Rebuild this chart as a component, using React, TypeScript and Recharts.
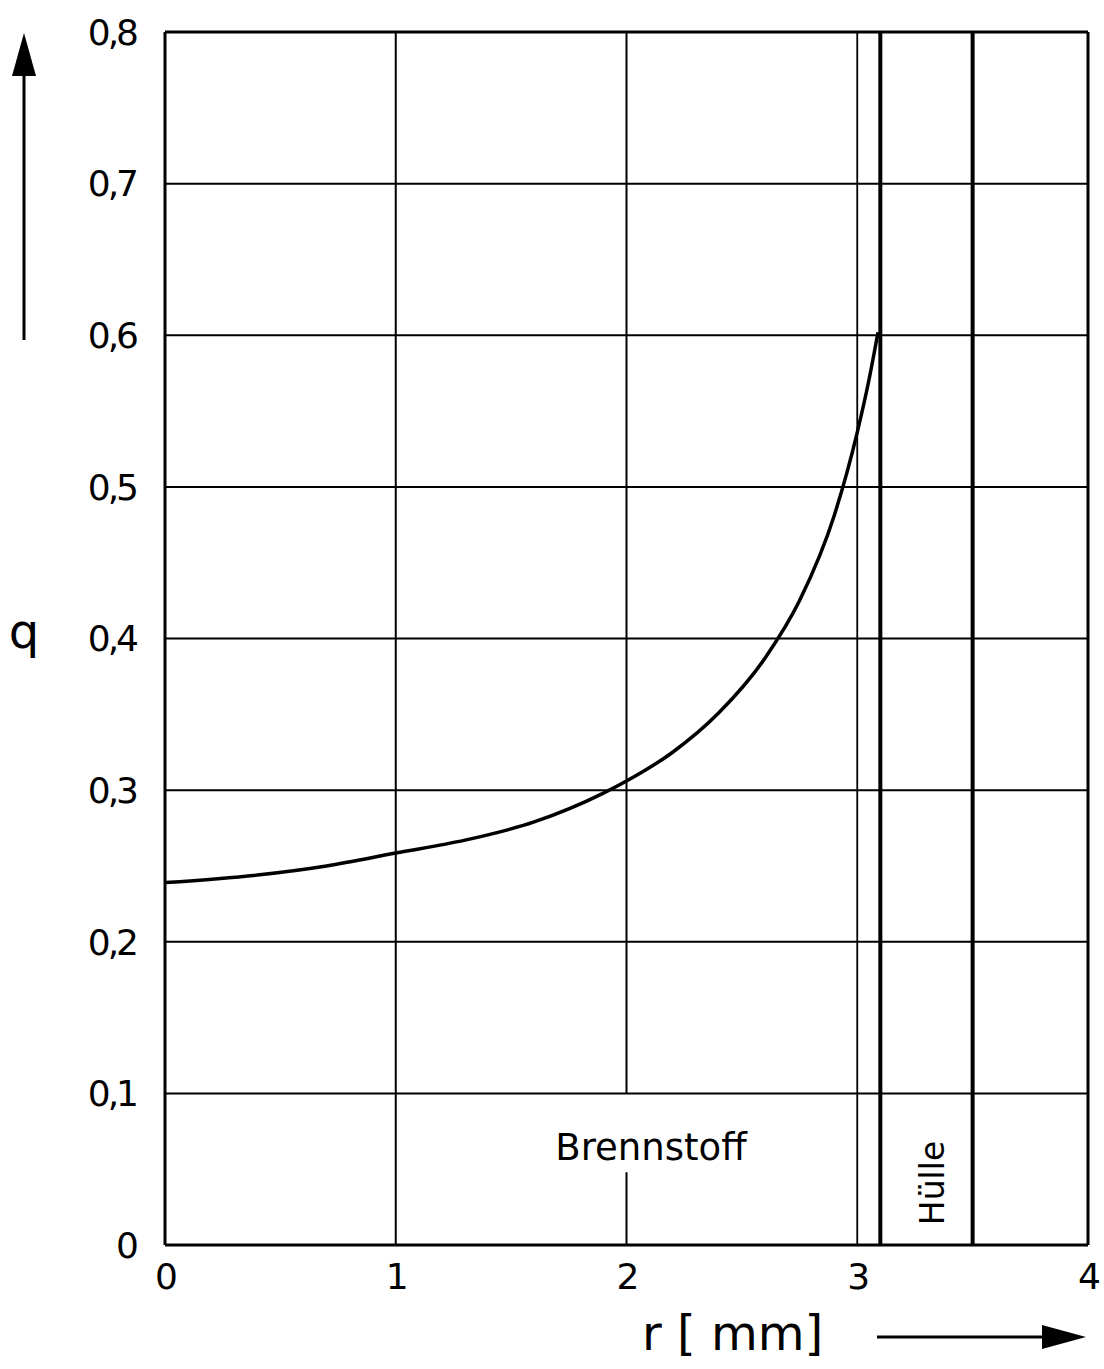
import React from "react";
import { LineChart, Line, XAxis, YAxis, CartesianGrid, ReferenceLine } from "recharts";

// radial position r [mm] and normalised heat source q along the fuel radius
const radius = [0, 0.4, 0.7, 1.0, 1.3, 1.6, 1.9, 2.0, 2.2, 2.4, 2.6, 2.75, 2.9, 3.0, 3.05, 3.09];
const qValues = [0.239, 0.244, 0.25, 0.2585, 0.267, 0.279, 0.298, 0.306, 0.325, 0.351, 0.387, 0.425, 0.481, 0.536, 0.57, 0.602];

const xTicks = [0, 1, 2, 3, 4];
const yTicks = [0, 0.1, 0.2, 0.3, 0.4, 0.5, 0.6, 0.7, 0.8];

// region boundaries
const gapEdge = 3.0;
const fuelEdge = 3.1;
const cladEdge = 3.5;
// the r = 2 grid line is interrupted around the "Brennstoff" label
const labelGap = [0.048, 0.1];

const data = radius.map((r, i) => ({ r, q: qValues[i] }));

const W = 1104;
const H = 1369;
const FONT = "'DejaVu Sans', 'Liberation Sans', sans-serif";

const fmtQ = (v: number) => (v === 0 ? "0" : v.toFixed(1).replace(".", ","));

function Annotations() {
  return (
    <svg
      width={W}
      height={H}
      style={{ position: "absolute", left: 0, top: 0, pointerEvents: "none" }}
    >
      {/* y arrow */}
      <line x1={24} y1={340} x2={24} y2={70} stroke="#000" strokeWidth={3} />
      <polygon points="24,33 12,76 36,76" fill="#000" />
      <text x={24} y={648} textAnchor="middle" fontFamily={FONT} fontSize={48} fill="#000">
        q
      </text>

      {/* x label and arrow */}
      <text x={642} y={1350} fontFamily={FONT} fontSize={48} fill="#000" xmlSpace="preserve">
        r [ mm]
      </text>
      <line x1={877} y1={1337} x2={1048} y2={1337} stroke="#000" strokeWidth={3} />
      <polygon points="1086,1337 1042,1325 1042,1349" fill="#000" />

      {/* region labels */}
      <text x={651} y={1160} textAnchor="middle" fontFamily={FONT} fontSize={37} fill="#000">
        Brennstoff
      </text>
      <text
        x={932}
        y={1183}
        textAnchor="middle"
        dominantBaseline="central"
        fontFamily={FONT}
        fontSize={33}
        fill="#000"
        transform="rotate(-90 932 1183)"
      >
        Hülle
      </text>
    </svg>
  );
}

export default function App() {
  const tickStyle = { fill: "#000", fontSize: 36, fontFamily: FONT, letterSpacing: -3 };
  return (
    <div style={{ position: "absolute", left: 0, top: 0, width: W, height: H, background: "#fff" }}>
      <LineChart width={W} height={H} data={data} margin={{ top: 32, right: 16, bottom: 0, left: 0 }}>
        <CartesianGrid vertical={false} stroke="#000" strokeWidth={2} />
        <XAxis
          type="number"
          dataKey="r"
          domain={[0, 4]}
          ticks={xTicks}
          height={124}
          tickSize={0}
          tickMargin={18}
          tickLine={false}
          axisLine={{ stroke: "#000", strokeWidth: 3 }}
          tick={tickStyle}
        />
        <YAxis
          type="number"
          domain={[0, 0.8]}
          ticks={yTicks}
          width={165}
          tickSize={0}
          tickMargin={29}
          tickLine={false}
          tickFormatter={fmtQ}
          axisLine={{ stroke: "#000", strokeWidth: 3 }}
          tick={tickStyle}
        />
        <ReferenceLine y={0.8} stroke="#000" strokeWidth={3} />
        <ReferenceLine x={1} stroke="#000" strokeWidth={2} />
        <ReferenceLine
          segment={[
            { x: 2, y: labelGap[1] },
            { x: 2, y: 0.8 },
          ]}
          stroke="#000"
          strokeWidth={2}
        />
        <ReferenceLine
          segment={[
            { x: 2, y: 0 },
            { x: 2, y: labelGap[0] },
          ]}
          stroke="#000"
          strokeWidth={2}
        />
        <ReferenceLine x={gapEdge} stroke="#000" strokeWidth={1.8} />
        <ReferenceLine x={fuelEdge} stroke="#000" strokeWidth={4} />
        <ReferenceLine x={cladEdge} stroke="#000" strokeWidth={4} />
        <ReferenceLine x={4} stroke="#000" strokeWidth={3} />
        <Line
          type="monotone"
          dataKey="q"
          stroke="#000"
          strokeWidth={3.5}
          dot={false}
          isAnimationActive={false}
        />
      </LineChart>
      <Annotations />
    </div>
  );
}
